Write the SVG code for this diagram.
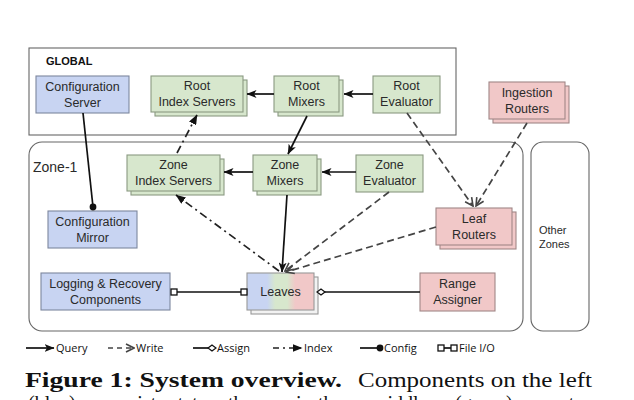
<svg xmlns="http://www.w3.org/2000/svg" width="634" height="400" viewBox="0 0 634 400">
<style>
.bg{fill:#ffffff}
.cont{fill:#ffffff;stroke:#666;stroke-width:1.1}
.blue{fill:#c8d4f2;stroke:#7d879e;stroke-width:1.1}
.green{fill:#d7e7cd;stroke:#8a9a82;stroke-width:1.1}
.red{fill:#f1c8c8;stroke:#a08787;stroke-width:1.1}
.lbl{font-family:"Liberation Sans",Arial,sans-serif;font-size:12.5px;fill:#2a2a2a;text-anchor:middle}
.small{font-family:"Liberation Sans",Arial,sans-serif;font-size:11px;fill:#2a2a2a}
.zone{font-family:"Liberation Sans",Arial,sans-serif;font-size:14px;fill:#2a2a2a}
.glob{font-family:"Liberation Sans",Arial,sans-serif;font-size:11px;font-weight:bold;fill:#111}
.leg{font-family:"Open Sans","DejaVu Sans",sans-serif;font-size:11px;fill:#111}
.cap{font-family:"Liberation Serif","Times New Roman",serif;font-size:20px;fill:#111}
.q{fill:none;stroke:#111;stroke-width:1.7}
.w{fill:none;stroke:#444;stroke-width:1.7;stroke-dasharray:7,4}
.ix{fill:none;stroke:#222;stroke-width:1.7;stroke-dasharray:8,4,2,4}
</style>
<defs>
<marker id="mq" viewBox="0 0 10 8" refX="9.5" refY="4" markerWidth="10" markerHeight="8" markerUnits="userSpaceOnUse" orient="auto">
<path d="M0,0 L10,4 L0,8 L2.5,4 z" fill="#111"/>
</marker>
<marker id="mw" viewBox="0 0 10 10" refX="9" refY="5" markerWidth="10" markerHeight="10" markerUnits="userSpaceOnUse" orient="auto">
<path d="M1,1 L9,5 L1,9" fill="none" stroke="#444" stroke-width="1.6"/>
</marker>
<marker id="mi" viewBox="0 0 10 8" refX="9.5" refY="4" markerWidth="10" markerHeight="8" markerUnits="userSpaceOnUse" orient="auto">
<path d="M0,0 L10,4 L0,8 z" fill="#111"/>
</marker>
<marker id="mc" viewBox="0 0 8 8" refX="4" refY="4" markerWidth="8" markerHeight="8" markerUnits="userSpaceOnUse">
<circle cx="4" cy="4" r="3.4" fill="#111"/>
</marker>
<marker id="mf" viewBox="0 0 8 8" refX="4" refY="4" markerWidth="8" markerHeight="8" markerUnits="userSpaceOnUse">
<rect x="1" y="1" width="6" height="6" fill="#fff" stroke="#111" stroke-width="1.3"/>
</marker>
<marker id="ma" viewBox="0 0 10 8" refX="5" refY="4" markerWidth="10" markerHeight="8" markerUnits="userSpaceOnUse" orient="auto">
<path d="M1,4 L5,1 L9,4 L5,7 z" fill="#fff" stroke="#111" stroke-width="1.3"/>
</marker>
<linearGradient id="gl" x1="0" y1="0" x2="1" y2="0">
<stop offset="0" stop-color="#c8d4f2"/>
<stop offset="0.3" stop-color="#c8d4f2"/>
<stop offset="0.42" stop-color="#d7e7cd"/>
<stop offset="0.6" stop-color="#d7e7cd"/>
<stop offset="0.72" stop-color="#f1c8c8"/>
<stop offset="1" stop-color="#f1c8c8"/>
</linearGradient>
</defs>
<rect class="bg" x="0" y="0" width="634" height="400"/>

<g id="global">
<rect class="cont" x="29" y="48" width="427" height="87"/>
<text class="glob" x="46" y="65">GLOBAL</text>
</g>
<g id="zone1">
<rect class="cont" x="29" y="142" width="494" height="189" rx="13"/>
<text class="zone" x="33" y="172">Zone-1</text>
</g>
<g id="other-zones">
<rect class="cont" x="531" y="142" width="58" height="189" rx="12"/>
<text class="small" x="539" y="234">Other</text>
<text class="small" x="539" y="248">Zones</text>
</g>

<g id="configuration-server">
<rect class="blue" x="36" y="76" width="93" height="37"/>
<text class="lbl" x="82.5" y="91">Configuration</text>
<text class="lbl" x="82.5" y="107">Server</text>
</g>
<g id="root-index-servers">
<rect class="green" x="155" y="80" width="92" height="36"/>
<rect class="green" x="151" y="76" width="92" height="36"/>
<text class="lbl" x="197" y="90">Root</text>
<text class="lbl" x="197" y="106">Index Servers</text>
</g>
<g id="root-mixers">
<rect class="green" x="278" y="80" width="65" height="36"/>
<rect class="green" x="274" y="76" width="65" height="36"/>
<text class="lbl" x="306.5" y="90">Root</text>
<text class="lbl" x="306.5" y="106">Mixers</text>
</g>
<g id="root-evaluator">
<rect class="green" x="373" y="76" width="67" height="37"/>
<text class="lbl" x="406.5" y="90">Root</text>
<text class="lbl" x="406.5" y="106">Evaluator</text>
</g>
<g id="ingestion-routers">
<rect class="red" x="493" y="86" width="76" height="37"/>
<rect class="red" x="489" y="82" width="76" height="37"/>
<text class="lbl" x="527" y="97">Ingestion</text>
<text class="lbl" x="527" y="113">Routers</text>
</g>
<g id="zone-index-servers">
<rect class="green" x="131" y="159" width="93" height="36"/>
<rect class="green" x="127" y="155" width="93" height="36"/>
<text class="lbl" x="173.5" y="169">Zone</text>
<text class="lbl" x="173.5" y="185">Index Servers</text>
</g>
<g id="zone-mixers">
<rect class="green" x="257" y="159" width="64" height="36"/>
<rect class="green" x="253" y="155" width="64" height="36"/>
<text class="lbl" x="285" y="169">Zone</text>
<text class="lbl" x="285" y="185">Mixers</text>
</g>
<g id="zone-evaluator">
<rect class="green" x="356" y="155" width="67" height="37"/>
<text class="lbl" x="389.5" y="169">Zone</text>
<text class="lbl" x="389.5" y="185">Evaluator</text>
</g>
<g id="configuration-mirror">
<rect class="blue" x="48" y="211" width="89" height="37"/>
<text class="lbl" x="92.5" y="226">Configuration</text>
<text class="lbl" x="92.5" y="242">Mirror</text>
</g>
<g id="leaf-routers">
<rect class="red" x="440" y="212" width="76" height="37"/>
<rect class="red" x="436" y="208" width="76" height="37"/>
<text class="lbl" x="474" y="223">Leaf</text>
<text class="lbl" x="474" y="239">Routers</text>
</g>
<g id="logging-recovery">
<rect class="blue" x="41" y="273" width="129" height="37"/>
<text class="lbl" x="105.5" y="288">Logging &amp; Recovery</text>
<text class="lbl" x="105.5" y="304">Components</text>
</g>
<g id="leaves">
<rect x="251" y="277" width="67" height="37" fill="#f2f2f2" stroke="#999" stroke-width="1.1"/>
<rect x="247" y="273" width="67" height="37" fill="url(#gl)" stroke="#999" stroke-width="1.1"/>
<text class="lbl" x="280.5" y="296">Leaves</text>
</g>
<g id="range-assigner">
<rect class="red" x="420" y="273" width="75" height="38"/>
<text class="lbl" x="457.5" y="288">Range</text>
<text class="lbl" x="457.5" y="304">Assigner</text>
</g>

<g id="connectors">
<line class="q" x1="373" y1="94" x2="344" y2="94" marker-end="url(#mq)"/>
<line class="q" x1="274" y1="94" x2="247" y2="94" marker-end="url(#mq)"/>
<line class="q" x1="307" y1="116" x2="288" y2="154" marker-end="url(#mq)"/>
<line class="q" x1="356" y1="172" x2="322" y2="172" marker-end="url(#mq)"/>
<line class="q" x1="253" y1="172" x2="224" y2="172" marker-end="url(#mq)"/>
<line class="q" x1="287" y1="195" x2="282" y2="272" marker-end="url(#mq)"/>
<line class="w" x1="389" y1="192" x2="285" y2="271" marker-end="url(#mw)"/>
<line class="w" x1="436" y1="227" x2="286" y2="272" marker-end="url(#mw)"/>
<line class="w" x1="407" y1="113" x2="473" y2="206" marker-end="url(#mw)"/>
<line class="w" x1="527" y1="123" x2="476" y2="206" marker-end="url(#mw)"/>
<line class="ix" x1="279" y1="271" x2="176" y2="195" marker-end="url(#mi)"/>
<line class="ix" x1="177" y1="153" x2="197" y2="115" marker-end="url(#mi)"/>
<line class="q" x1="83" y1="113" x2="93" y2="207" marker-end="url(#mc)"/>
<line class="q" x1="174" y1="292" x2="244" y2="292" marker-start="url(#mf)" marker-end="url(#mf)"/>
<line class="q" x1="420" y1="292" x2="321" y2="292" marker-end="url(#ma)"/>
</g>

<g id="legend">
<line class="q" x1="26" y1="348" x2="54" y2="348" marker-end="url(#mq)"/>
<text class="leg" x="56" y="352">Query</text>
<line class="w" x1="108" y1="348" x2="134" y2="348" style="stroke-dasharray:5,4" marker-end="url(#mw)"/>
<text class="leg" x="136" y="352">Write</text>
<line class="q" x1="193" y1="348" x2="212" y2="348" marker-end="url(#ma)"/>
<text class="leg" x="217" y="352">Assign</text>
<line class="ix" x1="273" y1="348" x2="302" y2="348" style="stroke-dasharray:6,4,2,4" marker-end="url(#mi)"/>
<text class="leg" x="304" y="352">Index</text>
<line class="q" x1="360" y1="348" x2="380" y2="348" marker-end="url(#mc)"/>
<text class="leg" x="384" y="352">Config</text>
<line class="q" x1="441" y1="348" x2="454" y2="348" marker-start="url(#mf)" marker-end="url(#mf)"/>
<text class="leg" x="459" y="352">File I/O</text>
</g>

<g id="caption">
<text class="cap" x="25" y="387"><tspan font-weight="bold" textLength="317" lengthAdjust="spacingAndGlyphs">Figure 1:  System overview.</tspan></text>
<text class="cap" x="358" y="387" textLength="234" lengthAdjust="spacingAndGlyphs">Components on the left</text>
<text class="cap" y="410"><tspan x="28">(blue)</tspan><tspan x="104">persist</tspan><tspan x="170">state;</tspan><tspan x="228">those</tspan><tspan x="296">in</tspan><tspan x="318">the</tspan><tspan x="372">middle</tspan><tspan x="455">(green)</tspan><tspan x="522">execute</tspan></text>
</g>
</svg>
